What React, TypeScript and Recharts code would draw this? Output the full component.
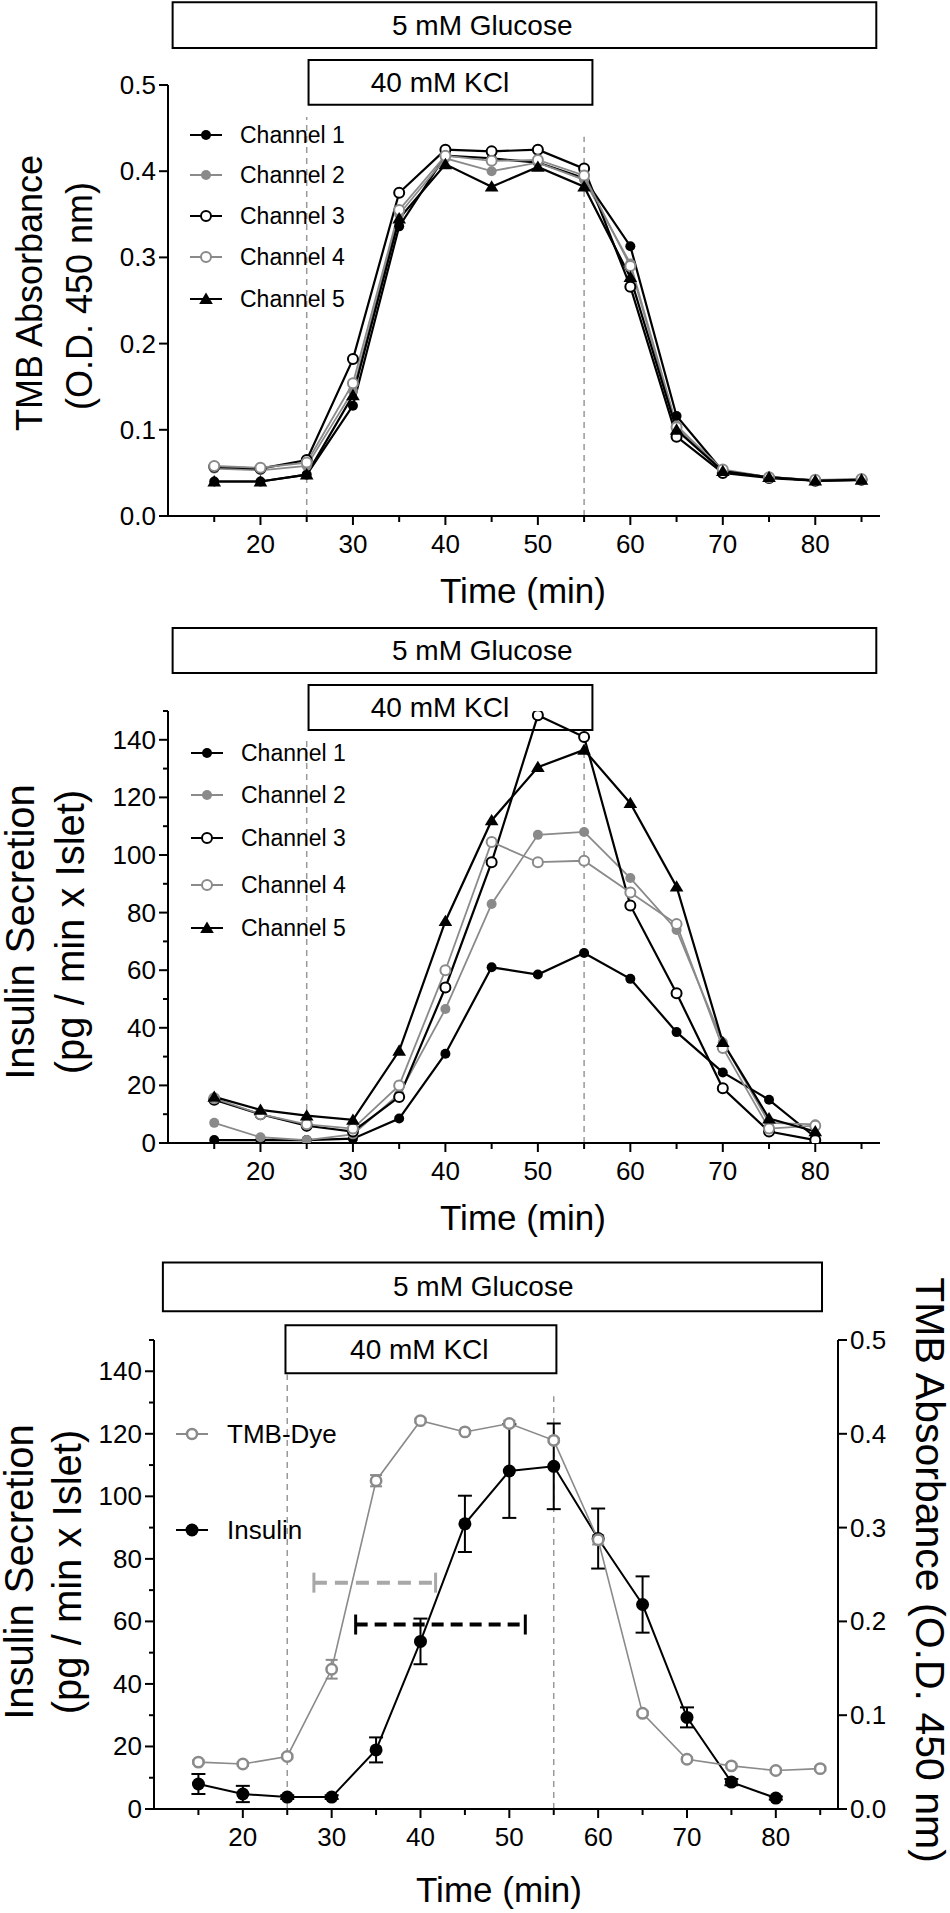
// App.tsx
import React from "react";
import {
  LineChart,
  Line,
  XAxis,
  YAxis,
  ReferenceLine,
  ReferenceArea,
  ErrorBar
} from "recharts";

const FONT = "'Liberation Sans', Arial, Helvetica, sans-serif";
const GRAY = "#8a8a8a";

// time points (min)
const times = [15, 20, 25, 30, 35, 40, 45, 50, 55, 60, 65, 70, 75, 80, 85];
const insulinTimes = [15, 20, 25, 30, 35, 40, 45, 50, 55, 60, 65, 70, 75, 80];

// panel A: TMB absorbance per channel
const tmbCh1 = [0.040, 0.040, 0.048, 0.128, 0.336, 0.418, 0.415, 0.410, 0.392, 0.313, 0.116, 0.052, 0.045, 0.041, 0.042];
const tmbCh2 = [0.055, 0.053, 0.058, 0.145, 0.350, 0.415, 0.400, 0.410, 0.390, 0.293, 0.105, 0.053, 0.045, 0.041, 0.043];
const tmbCh3 = [0.057, 0.055, 0.065, 0.182, 0.375, 0.425, 0.423, 0.425, 0.403, 0.266, 0.092, 0.050, 0.044, 0.041, 0.042];
const tmbCh4 = [0.058, 0.056, 0.062, 0.154, 0.355, 0.418, 0.412, 0.413, 0.395, 0.290, 0.103, 0.054, 0.045, 0.042, 0.043];
const tmbCh5 = [0.040, 0.040, 0.048, 0.140, 0.345, 0.408, 0.382, 0.405, 0.382, 0.277, 0.100, 0.052, 0.045, 0.041, 0.042];

// panel B: insulin secretion per channel
const insCh1 = [1, 1, 1, 1.5, 8.5, 31, 61, 58.5, 66, 57, 38.5, 24.5, 15, 2];
const insCh2 = [7, 2, 1, 3, 17, 46.5, 83, 107, 108, 92, 74, 35, 7, 6.5];
const insCh3 = [15, 10, 6, 4, 16, 54, 97.5, 148.5, 141, 82.5, 52, 19, 4, 1];
const insCh4 = [15.5, 10, 6.5, 5, 20, 60, 104.5, 97.5, 98, 87, 76, 33, 5, 6];
const insCh5 = [16, 11.5, 9.5, 8, 32, 77, 112, 130.5, 136.5, 118, 89, 35, 8.5, 4];

// panel C: means with error
const meanInsulin = [8.0, 4.8, 3.8, 3.8, 18.9, 53.6, 91.2, 108.1, 109.6, 86.5, 65.4, 29.3, 8.6, 3.5];
const meanInsulinErr = [3.2, 2.6, 0.6, 0.6, 4.0, 7.3, 9.0, 15.0, 13.7, 9.6, 9.0, 3.2, 1.0, 0.5];
const meanTmb = [0.050, 0.048, 0.056, 0.149, 0.350, 0.414, 0.402, 0.411, 0.393, 0.287, 0.102, 0.053, 0.046, 0.041, 0.043];
const meanTmbErr = [0.002, 0.002, 0.002, 0.010, 0.006, 0.002, 0.002, 0.003, 0.002, 0.005, 0.002, 0.002, 0.002, 0.002, 0.002];

// half-max spans in panel C: [start, end] at level (insulin units)
const tmbSpan = [28, 41.7];
const tmbSpanLevel = 72.4;
const insSpan = [32.7, 51.8];
const insSpanLevel = 59;

// ticks
const xTicks = [15, 20, 25, 30, 35, 40, 45, 50, 55, 60, 65, 70, 75, 80, 85];
const absTicks = [0, 0.1, 0.2, 0.3, 0.4, 0.5];
const insTicks = [0, 10, 20, 30, 40, 50, 60, 70, 80, 90, 100, 110, 120, 130, 140, 150];

const channels = [
  { key: "c1", name: "Channel 1", color: "#000", kind: "filled" },
  { key: "c2", name: "Channel 2", color: GRAY, kind: "filled" },
  { key: "c3", name: "Channel 3", color: "#000", kind: "open" },
  { key: "c4", name: "Channel 4", color: GRAY, kind: "open" },
  { key: "c5", name: "Channel 5", color: "#000", kind: "triangle" }
];

const tmbRows = times.map((t, i) => ({
  t, c1: tmbCh1[i], c2: tmbCh2[i], c3: tmbCh3[i], c4: tmbCh4[i], c5: tmbCh5[i]
}));
const insRows = insulinTimes.map((t, i) => ({
  t, c1: insCh1[i], c2: insCh2[i], c3: insCh3[i], c4: insCh4[i], c5: insCh5[i]
}));
const meanInsRows = insulinTimes.map((t, i) => ({ t, v: meanInsulin[i], e: meanInsulinErr[i] }));
const meanTmbRows = times.map((t, i) => ({ t, v: meanTmb[i], e: meanTmbErr[i] }));

const Marker = ({ cx, cy, kind, color, r = 5, sw = 2 }: any) => {
  if (cx == null || cy == null) return null;
  if (kind === "triangle") {
    const s = r * 1.3;
    return (
      <polygon
        points={`${cx},${cy - s} ${cx - s * 1.05},${cy + s * 0.75} ${cx + s * 1.05},${cy + s * 0.75}`}
        fill={color}
      />
    );
  }
  if (kind === "open") {
    return <circle cx={cx} cy={cy} r={r} fill="#fff" stroke={color} strokeWidth={sw} />;
  }
  return <circle cx={cx} cy={cy} r={r} fill={color} />;
};

const dotFor = (kind: string, color: string, r = 5, sw = 2) => (p: any) => (
  <g key={`d${p.index}`}>
    <Marker cx={p.cx} cy={p.cy} kind={kind} color={color} r={r} sw={sw} />
  </g>
);

const XTick = (props: any) => {
  const { x, payload, axisY } = props;
  const v = payload.value;
  const major = v % 10 === 0;
  return (
    <g>
      <line x1={x} x2={x} y1={axisY} y2={axisY + (major ? 9 : 6)} stroke="#000" strokeWidth={2} />
      {major && (
        <text x={x} y={axisY + 28} textAnchor="middle" dominantBaseline="central" fontSize={26} fontFamily={FONT} fill="#000">
          {v}
        </text>
      )}
    </g>
  );
};

const YTick = (props: any) => {
  const { y, payload, axisX, side, major, fmt } = props;
  const v = payload.value;
  const isMajor = major(v);
  const dir = side === "left" ? -1 : 1;
  return (
    <g>
      <line x1={axisX} x2={axisX + dir * (isMajor ? 9 : 5)} y1={y} y2={y} stroke="#000" strokeWidth={2} />
      {isMajor && (
        <text
          x={axisX + dir * 12}
          y={y}
          textAnchor={side === "left" ? "end" : "start"}
          dominantBaseline="central"
          fontSize={26}
          fontFamily={FONT}
          fill="#000"
        >
          {fmt(v)}
        </text>
      )}
    </g>
  );
};

const boxLabel = (text: string, frac: number) => (p: any) => {
  const vb = p.viewBox;
  return (
    <text
      x={vb.x + vb.width * frac}
      y={vb.y + vb.height / 2}
      textAnchor="middle"
      dominantBaseline="central"
      fontSize={28}
      fontFamily={FONT}
      fill="#000"
    >
      {text}
    </text>
  );
};

const Label = ({ cx, cy, text, size, rot = 0 }: any) => (
  <div
    style={{
      position: "absolute",
      left: cx,
      top: cy,
      transform: `translate(-50%, -50%) rotate(${rot}deg)`,
      fontSize: size,
      lineHeight: 1,
      whiteSpace: "nowrap",
      fontFamily: FONT,
      color: "#000"
    }}
  >
    {text}
  </div>
);

const LegendItem = ({ x, y, textX, text, kind, color, size, r = 5, sw = 2 }: any) => (
  <>
    <svg style={{ position: "absolute", left: x - 17, top: y - 12 }} width={34} height={24}>
      <line x1={1} x2={33} y1={12} y2={12} stroke={color} strokeWidth={2} />
      <Marker cx={17} cy={12} kind={kind} color={color} r={r} sw={sw} />
    </svg>
    <div
      style={{
        position: "absolute",
        left: textX,
        top: y,
        transform: "translateY(-50%)",
        fontSize: size,
        lineHeight: 1,
        whiteSpace: "nowrap",
        fontFamily: FONT
      }}
    >
      {text}
    </div>
  </>
);

const absMajor = () => true;
const insMajor = (v: number) => v % 20 === 0 && v <= 140;
const fmt1 = (v: number) => v.toFixed(1);
const fmt0 = (v: number) => String(v);

const dashed = { stroke: "#999", strokeWidth: 1.5, strokeDasharray: "6 5" };
const boxStyle = { fill: "#fff", fillOpacity: 0, stroke: "#000", strokeWidth: 2 };

const ChannelPanel = ({ rows, yDomain, yTicks, major, fmt, axisY, height, margin, dashTops, boxes }: any) => (
  <LineChart width={950} height={height} data={rows} margin={margin}>
    <ReferenceArea x1={10.5} x2={86.6} y1={boxes.glu[0]} y2={boxes.glu[1]} ifOverflow="visible" {...boxStyle}
      label={boxLabel("5 mM Glucose", 0.44)} />
    <ReferenceArea x1={25.2} x2={55.9} y1={boxes.kcl[0]} y2={boxes.kcl[1]} ifOverflow="visible" {...boxStyle}
      label={boxLabel("40 mM KCl", 0.463)} />
    <ReferenceLine segment={[{ x: 25, y: 0 }, { x: 25, y: dashTops[0] }]} {...dashed} />
    <ReferenceLine segment={[{ x: 55, y: 0 }, { x: 55, y: dashTops[1] }]} {...dashed} />
    <XAxis
      type="number"
      dataKey="t"
      domain={[10, 87]}
      ticks={xTicks}
      interval={0}
      allowDataOverflow
      height={40}
      axisLine={{ stroke: "#000", strokeWidth: 2 }}
      tickLine={false}
      tick={(p: any) => <XTick {...p} axisY={axisY} />}
    />
    <YAxis
      type="number"
      domain={yDomain}
      ticks={yTicks}
      interval={0}
      allowDataOverflow
      width={60}
      axisLine={{ stroke: "#000", strokeWidth: 2 }}
      tickLine={false}
      tick={(p: any) => <YTick {...p} axisX={168} side="left" major={major} fmt={fmt} />}
    />
    {channels.map((c) => (
      <Line
        key={c.key}
        type="linear"
        dataKey={c.key}
        stroke={c.color}
        strokeWidth={c.color === GRAY ? 1.8 : 2.2}
        dot={dotFor(c.kind, c.color)}
        activeDot={false}
        isAnimationActive={false}
      />
    ))}
  </LineChart>
);

export default function App() {
  const legA = [135, 175, 216, 257, 299];
  const legB = [753, 795, 838, 885, 928];
  return (
    <div style={{ position: "absolute", left: 0, top: 0, width: 950, height: 1913, background: "#fff", fontFamily: FONT }}>
      {/* Panel A */}
      <div style={{ position: "absolute", left: 0, top: 0 }}>
        <ChannelPanel
          rows={tmbRows}
          yDomain={[0, 0.5]}
          yTicks={absTicks}
          major={absMajor}
          fmt={fmt1}
          axisY={516}
          height={620}
          margin={{ top: 85, right: 70, bottom: 64, left: 108 }}
          dashTops={[0.463, 0.44]}
          boxes={{ glu: [0.543, 0.596], kcl: [0.477, 0.529] }}
        />
      </div>
      <Label cx={30} cy={293} text="TMB Absorbance" size={36} rot={-90} />
      <Label cx={80} cy={296} text="(O.D. 450 nm)" size={36} rot={-90} />
      <Label cx={523} cy={590} text="Time (min)" size={35} />
      {channels.map((c, i) => (
        <LegendItem key={c.key} x={206} y={legA[i]} textX={240} text={c.name} kind={c.kind} color={c.color} size={23} />
      ))}

      {/* Panel B */}
      <div style={{ position: "absolute", left: 0, top: 620 }}>
        <ChannelPanel
          rows={insRows}
          yDomain={[0, 150]}
          yTicks={insTicks}
          major={insMajor}
          fmt={fmt0}
          axisY={523}
          height={620}
          margin={{ top: 91, right: 70, bottom: 57, left: 108 }}
          dashTops={[140, 136]}
          boxes={{ glu: [163.2, 178.8], kcl: [143.4, 159] }}
        />
      </div>
      <Label cx={20} cy={932} text="Insulin Secretion" size={40} rot={-90} />
      <Label cx={70} cy={932} text="(pg / min x Islet)" size={40} rot={-90} />
      <Label cx={523} cy={1217} text="Time (min)" size={35} />
      {channels.map((c, i) => (
        <LegendItem key={c.key} x={207} y={legB[i]} textX={241} text={c.name} kind={c.kind} color={c.color} size={23} />
      ))}

      {/* Panel C */}
      <div style={{ position: "absolute", left: 0, top: 1240 }}>
        <LineChart width={950} height={673} margin={{ top: 100, right: 52, bottom: 64, left: 94 }}>
          <ReferenceArea yAxisId="L" x1={11.0} x2={85.2} y1={159.2} y2={174.8} ifOverflow="visible" {...boxStyle}
            label={boxLabel("5 mM Glucose", 0.486)} />
          <ReferenceArea yAxisId="L" x1={24.8} x2={55.3} y1={139.4} y2={154.7} ifOverflow="visible" {...boxStyle}
            label={boxLabel("40 mM KCl", 0.494)} />
          <ReferenceLine yAxisId="L" segment={[{ x: 25, y: 0 }, { x: 25, y: 139.4 }]} {...dashed} />
          <ReferenceLine yAxisId="L" segment={[{ x: 55, y: 0 }, { x: 55, y: 132 }]} {...dashed} />
          <XAxis
            type="number"
            dataKey="t"
            domain={[10, 87]}
            ticks={xTicks}
            interval={0}
            allowDataOverflow
            height={40}
            axisLine={{ stroke: "#000", strokeWidth: 2 }}
            tickLine={false}
            tick={(p: any) => <XTick {...p} axisY={569} />}
          />
          <YAxis
            yAxisId="L"
            type="number"
            domain={[0, 150]}
            ticks={insTicks}
            interval={0}
            allowDataOverflow
            width={60}
            axisLine={{ stroke: "#000", strokeWidth: 2 }}
            tickLine={false}
            tick={(p: any) => <YTick {...p} axisX={154} side="left" major={insMajor} fmt={fmt0} />}
          />
          <YAxis
            yAxisId="R"
            orientation="right"
            type="number"
            domain={[0, 0.5]}
            ticks={absTicks}
            interval={0}
            allowDataOverflow
            width={60}
            axisLine={{ stroke: "#000", strokeWidth: 2 }}
            tickLine={false}
            tick={(p: any) => <YTick {...p} axisX={838} side="right" major={absMajor} fmt={fmt1} />}
          />
          {/* half-max spans */}
          <ReferenceLine yAxisId="L" segment={[{ x: tmbSpan[0], y: tmbSpanLevel }, { x: tmbSpan[1], y: tmbSpanLevel }]}
            stroke="#a8a8a8" strokeWidth={4} strokeDasharray="13 8" />
          <ReferenceLine yAxisId="L" segment={[{ x: tmbSpan[0], y: tmbSpanLevel - 3.2 }, { x: tmbSpan[0], y: tmbSpanLevel + 3.2 }]}
            stroke="#a8a8a8" strokeWidth={3} />
          <ReferenceLine yAxisId="L" segment={[{ x: tmbSpan[1], y: tmbSpanLevel - 3.2 }, { x: tmbSpan[1], y: tmbSpanLevel + 3.2 }]}
            stroke="#a8a8a8" strokeWidth={3} />
          <ReferenceLine yAxisId="L" segment={[{ x: insSpan[0], y: insSpanLevel }, { x: insSpan[1], y: insSpanLevel }]}
            stroke="#000" strokeWidth={4} strokeDasharray="12 7" />
          <ReferenceLine yAxisId="L" segment={[{ x: insSpan[0], y: insSpanLevel - 3.2 }, { x: insSpan[0], y: insSpanLevel + 3.2 }]}
            stroke="#000" strokeWidth={3} />
          <ReferenceLine yAxisId="L" segment={[{ x: insSpan[1], y: insSpanLevel - 3.2 }, { x: insSpan[1], y: insSpanLevel + 3.2 }]}
            stroke="#000" strokeWidth={3} />
          <Line
            yAxisId="L"
            data={meanInsRows}
            type="linear"
            dataKey="v"
            stroke="#000"
            strokeWidth={2}
            dot={dotFor("filled", "#000", 6.5)}
            activeDot={false}
            isAnimationActive={false}
          >
            <ErrorBar dataKey="e" direction="y" width={7} stroke="#000" strokeWidth={2} />
          </Line>
          <Line
            yAxisId="R"
            data={meanTmbRows}
            type="linear"
            dataKey="v"
            stroke={GRAY}
            strokeWidth={1.6}
            dot={dotFor("open", GRAY, 5.2, 2.5)}
            activeDot={false}
            isAnimationActive={false}
          >
            <ErrorBar dataKey="e" direction="y" width={6} stroke={GRAY} strokeWidth={2} />
          </Line>
        </LineChart>
      </div>
      <Label cx={19} cy={1572} text="Insulin Secretion" size={40} rot={-90} />
      <Label cx={67} cy={1572} text="(pg / min x Islet)" size={40} rot={-90} />
      <Label cx={929} cy={1570} text="TMB Absorbance (O.D. 450 nm)" size={41} rot={90} />
      <Label cx={499} cy={1889} text="Time (min)" size={35} />
      <LegendItem x={192} y={1434} textX={227} text="TMB-Dye" kind="open" color={GRAY} size={26} sw={2.5} />
      <LegendItem x={192} y={1530} textX={227} text="Insulin" kind="filled" color="#000" size={26} r={6.5} />
    </div>
  );
}
